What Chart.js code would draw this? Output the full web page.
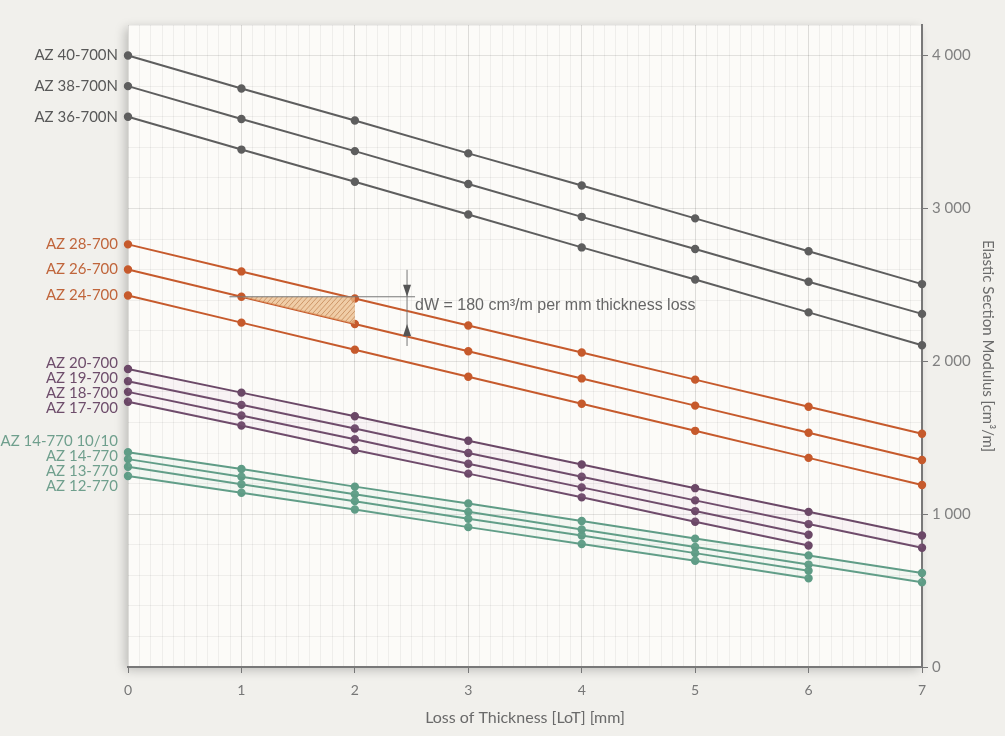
<!DOCTYPE html>
<html>
<head>
<meta charset="utf-8">
<script src="https://cdn.jsdelivr.net/npm/chart.js@4/dist/chart.umd.min.js"></script>
<style>
  html, body { margin: 0; padding: 0; background: #f1f0ec; }
  #wrap { width: 1005px; height: 736px; }
</style>
</head>
<body>
<div id="wrap"><canvas id="myChart"></canvas></div>
<script>
// loss of thickness [mm]
const thickness = [0, 1, 2, 3, 4, 5, 6, 7]

const names = ['AZ 40-700N', 'AZ 38-700N', 'AZ 36-700N',
  'AZ 28-700', 'AZ 26-700', 'AZ 24-700',
  'AZ 20-700', 'AZ 19-700', 'AZ 18-700', 'AZ 17-700',
  'AZ 14-770 10/10', 'AZ 14-770', 'AZ 13-770', 'AZ 12-770']

// elastic section modulus [cm3/m]
const az40 = [4000, 3785, 3575, 3360, 3150, 2935, 2720, 2505]
const az38 = [3800, 3585, 3375, 3160, 2945, 2735, 2520, 2310]
const az36 = [3600, 3385, 3175, 2960, 2745, 2535, 2320, 2105]
const az28 = [2765, 2588, 2411, 2234, 2057, 1880, 1703, 1526]
const az26 = [2600, 2422, 2244, 2066, 1888, 1710, 1532, 1354]
const az24 = [2430, 2253, 2076, 1899, 1722, 1545, 1368, 1191]
const az20 = [1950, 1795, 1640, 1480, 1325, 1170, 1015, 860]
const az19 = [1870, 1715, 1560, 1400, 1245, 1090, 935, 780]
const az18 = [1800, 1645, 1490, 1330, 1175, 1020, 865]
const az17 = [1735, 1580, 1420, 1265, 1110, 950, 795]
const az14b = [1405, 1295, 1180, 1070, 955, 840, 730, 615]
const az14 = [1360, 1245, 1130, 1015, 900, 785, 670, 555]
const az13 = [1310, 1195, 1085, 970, 860, 745, 630]
const az12 = [1250, 1140, 1030, 915, 805, 695, 580]

const allSeries = [az40, az38, az36, az28, az26, az24, az20, az19, az18, az17, az14b, az14, az13, az12]
const groupOf = [0, 0, 0, 1, 1, 1, 2, 2, 2, 2, 3, 3, 3, 3]

const lineColors = ['#5e5e5e', '#c65a2c', '#6b4867', '#5f9c86']
const labelColors = ['#585858', '#c0653b', '#6e4d6b', '#6f9f8d']
const bandColors = [null, null, 'rgba(215,170,215,0.09)', 'rgba(150,215,190,0.09)']

const dWText = 'dW = 180 cm\u00b3/m per mm thickness loss'

const fmt = v => String(v).replace(/\B(?=(\d{3})+(?!\d))/g, ' ')
const isInt = v => Math.abs(v - Math.round(v)) < 1e-6

const datasets = allSeries.map((vals, i) => {
  const g = groupOf[i]
  const nextSame = i + 1 < allSeries.length && groupOf[i + 1] === g
  return {
    label: names[i],
    data: vals.map((v, k) => ({ x: thickness[k], y: v })),
    borderColor: lineColors[g],
    backgroundColor: bandColors[g] && nextSame ? bandColors[g] : lineColors[g],
    pointBackgroundColor: lineColors[g],
    pointBorderColor: lineColors[g],
    pointRadius: 3.2,
    borderWidth: 2,
    fill: bandColors[g] && nextSame ? '+1' : false,
    clip: false
  }
})

const plotBg = {
  id: 'plotBg',
  beforeDraw(chart) {
    const { ctx, chartArea: a } = chart
    ctx.save()
    ctx.shadowColor = 'rgba(0,0,0,0.22)'
    ctx.shadowBlur = 10
    ctx.shadowOffsetX = -3
    ctx.shadowOffsetY = 3
    ctx.fillStyle = '#fcfbf8'
    ctx.fillRect(a.left, a.top, a.right - a.left, a.bottom - a.top)
    ctx.restore()
  }
}

const extras = {
  id: 'extras',
  afterDatasetsDraw(chart) {
    const { ctx } = chart
    const xs = chart.scales.x, ys = chart.scales.y

    // series labels on the left, spread inside each group
    ctx.save()
    ctx.font = '15px Lato, "DejaVu Sans", sans-serif'
    ctx.textAlign = 'right'
    ctx.textBaseline = 'middle'
    for (let g = 0; g < 4; g++) {
      const idx = groupOf.map((gg, i) => gg === g ? i : -1).filter(i => i >= 0)
      const py = idx.map(i => ys.getPixelForValue(allSeries[i][0]))
      const mean = py.reduce((s, v) => s + v, 0) / py.length
      let minGap = Infinity
      for (let k = 1; k < py.length; k++) minGap = Math.min(minGap, py[k] - py[k - 1])
      const pos = minGap < 15 ? py.map((_, k) => mean + (k - (py.length - 1) / 2) * 15) : py
      ctx.fillStyle = labelColors[g]
      idx.forEach((i, k) => ctx.fillText(names[i], xs.getPixelForValue(0) - 10, pos[k]))
    }
    ctx.restore()

    // dW annotation on AZ 26-700 between 1 and 2 mm
    const x1 = xs.getPixelForValue(thickness[1])
    const x2 = xs.getPixelForValue(thickness[2])
    const yA = ys.getPixelForValue(az26[1])
    const yB = ys.getPixelForValue(az26[2])
    const xd = xs.getPixelForValue(2.46)
    ctx.save()
    ctx.beginPath()
    ctx.moveTo(x1, yA); ctx.lineTo(x2, yA); ctx.lineTo(x2, yB); ctx.closePath()
    ctx.fillStyle = 'rgba(236,190,140,0.75)'
    ctx.fill()
    ctx.clip()
    ctx.strokeStyle = 'rgba(185,120,70,0.8)'
    ctx.lineWidth = 0.8
    for (let s = x1 - 40; s < x2 + 40; s += 5) {
      ctx.beginPath(); ctx.moveTo(s, yB + 2); ctx.lineTo(s + 28, yA - 2); ctx.stroke()
    }
    ctx.restore()

    ctx.save()
    ctx.strokeStyle = '#777'
    ctx.fillStyle = '#555'
    ctx.lineWidth = 1
    ctx.beginPath()
    ctx.moveTo(x1 - 12, yA); ctx.lineTo(xd + 8, yA)
    ctx.moveTo(xd, yA - 27); ctx.lineTo(xd, yB + 22)
    ctx.stroke()
    ctx.beginPath()
    ctx.moveTo(xd, yA); ctx.lineTo(xd - 4, yA - 12); ctx.lineTo(xd + 4, yA - 12); ctx.closePath()
    ctx.moveTo(xd, yB); ctx.lineTo(xd - 4, yB + 12); ctx.lineTo(xd + 4, yB + 12); ctx.closePath()
    ctx.fill()
    ctx.font = '16px "Liberation Sans", Arial, sans-serif'
    ctx.fillStyle = '#666'
    ctx.textAlign = 'left'
    ctx.textBaseline = 'middle'
    ctx.fillText(dWText, xd + 8, (yA + yB) / 2 - 5)
    ctx.restore()
  }
}

const ctx = document.getElementById('myChart').getContext('2d')
new Chart(ctx, {
  type: 'line',
  data: { datasets: datasets },
  plugins: [plotBg, extras],
  options: {
    responsive: true,
    maintainAspectRatio: false,
    animation: false,
    layout: { padding: { left: 128, top: 25, right: 0, bottom: 0 } },
    plugins: { legend: { display: false }, tooltip: { enabled: false } },
    elements: { line: { tension: 0 } },
    scales: {
      x: {
        type: 'linear',
        min: 0,
        max: 7,
        afterBuildTicks: s => { s.ticks = Array.from({ length: 71 }, (_, i) => ({ value: i / 10 })) },
        afterFit: s => { s.height = 69 },
        ticks: {
          autoSkip: false,
          maxRotation: 0,
          padding: 9,
          color: '#777',
          font: { size: 14, family: 'Lato, "DejaVu Sans", sans-serif' },
          callback: v => isInt(v) ? String(Math.round(v)) : ''
        },
        grid: {
          color: c => isInt(c.tick.value) ? 'rgba(0,0,0,0.12)' : 'rgba(0,0,0,0.05)',
          tickColor: c => isInt(c.tick.value) ? '#777' : 'rgba(0,0,0,0)',
          tickLength: 6,
          lineWidth: 1
        },
        border: { color: '#787878', width: 2 },
        title: {
          display: true,
          text: 'Loss of Thickness [LoT] [mm]',
          color: '#6a6a6a',
          font: { size: 16, family: 'Lato, "DejaVu Sans", sans-serif' },
          padding: { top: 4, bottom: 9 }
        }
      },
      y: {
        type: 'linear',
        position: 'right',
        min: 0,
        max: 4200,
        afterBuildTicks: s => { s.ticks = Array.from({ length: 22 }, (_, i) => ({ value: i * 200 })) },
        afterFit: s => { s.width = 83 },
        ticks: {
          autoSkip: false,
          padding: 4,
          color: '#808080',
          font: { size: 15, family: 'Lato, "DejaVu Sans", sans-serif' },
          callback: v => v % 1000 === 0 ? fmt(v) : ''
        },
        grid: {
          color: c => c.tick.value % 1000 === 0 ? 'rgba(0,0,0,0.1)' : 'rgba(0,0,0,0.05)',
          tickColor: c => c.tick.value % 1000 === 0 ? '#777' : 'rgba(0,0,0,0)',
          tickLength: 6,
          lineWidth: 1
        },
        border: { color: '#787878', width: 2 },
        title: {
          display: true,
          text: 'Elastic Section Modulus [cm\u00b3/m]',
          color: '#6a6a6a',
          font: { size: 15, family: 'Lato, "DejaVu Sans", sans-serif' },
          padding: { top: 8, bottom: 4 }
        }
      }
    }
  }
})
</script>
</body>
</html>
